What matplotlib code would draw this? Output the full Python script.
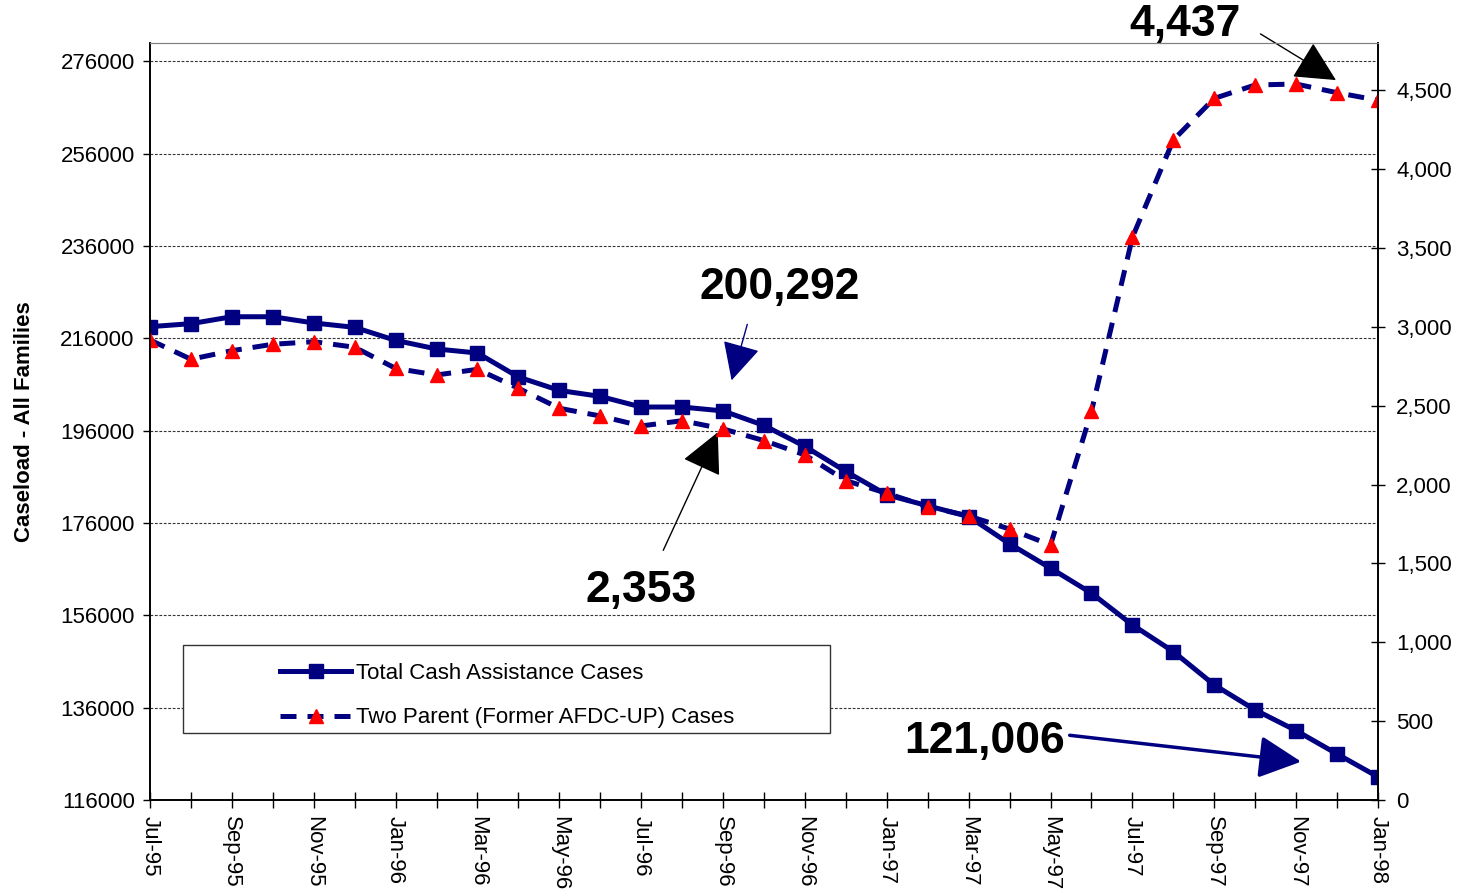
import numpy as np
import matplotlib
matplotlib.use('Agg')
import matplotlib.pyplot as plt
from matplotlib.patches import Rectangle
from matplotlib.ticker import FuncFormatter

plt.rcParams['font.family'] = ['Liberation Sans', 'DejaVu Sans']

#%% data
months = ['Jul-95', 'Aug-95', 'Sep-95', 'Oct-95', 'Nov-95', 'Dec-95',
          'Jan-96', 'Feb-96', 'Mar-96', 'Apr-96', 'May-96', 'Jun-96',
          'Jul-96', 'Aug-96', 'Sep-96', 'Oct-96', 'Nov-96', 'Dec-96',
          'Jan-97', 'Feb-97', 'Mar-97', 'Apr-97', 'May-97', 'Jun-97',
          'Jul-97', 'Aug-97', 'Sep-97', 'Oct-97', 'Nov-97', 'Dec-97',
          'Jan-98']

total_cases = [218550, 219200, 220700, 220700, 219350, 218400,
               215580, 213720, 212840, 207640, 204740, 203440,
               201140, 201140, 200292, 197150, 192600, 187180,
               182120, 179740, 177420, 171500, 166230, 160810,
               153940, 148150, 140930, 135510, 131030, 125970,
               121006]

two_parent = [2917, 2795, 2849, 2890, 2906, 2871,
              2737, 2695, 2731, 2611, 2484, 2435,
              2372, 2405, 2353, 2279, 2188, 2025,
              1945, 1860, 1801, 1718, 1617, 2465,
              3568, 4185, 4449, 4534, 4540, 4485,
              4437]

left_ticks = np.arange(116000, 276001, 20000)
right_ticks = np.arange(0, 4501, 500)

navy = '#000080'
x = np.arange(len(months))

#%% figure
fig = plt.figure(figsize=(14.59, 8.89), dpi=100)
ax = fig.add_axes([0.1028, 0.1001, 0.8417, 0.8515])
ax2 = ax.twinx()

ln1, = ax.plot(x, total_cases, color=navy, lw=3.6, marker='s', ms=10.5,
               label='Total Cash Assistance Cases')
ln2, = ax2.plot(x, two_parent, color=navy, lw=3.6, ls=(0, (3.2, 2.2)),
                marker='^', ms=10, mfc='red', mec='red',
                label='Two Parent (Former AFDC-UP) Cases')

ax.set_xlim(0, len(months) - 1)
ax.set_ylim(116000, 280000)
ax2.set_ylim(0, 4800)

ax.set_yticks(left_ticks)
ax2.set_yticks(right_ticks)
ax2.yaxis.set_major_formatter(FuncFormatter(lambda v, p: f'{int(v):,}'))

ax.set_xticks(x)
ax.set_xticklabels([m if i % 2 == 0 else '' for i, m in enumerate(months)],
                   rotation=-90, ha='center', va='top')

ax.tick_params(axis='y', labelsize=16, direction='out', length=5, width=1, pad=6)
ax.tick_params(axis='x', labelsize=16, direction='inout', length=11, width=1, pad=6)
ax2.tick_params(axis='y', labelsize=16, direction='inout', length=10, width=1, pad=8)

ax.yaxis.grid(True, linestyle=(0, (2.5, 1.5)), color='#333333', lw=0.8)
ax.set_axisbelow(True)

ax.set_ylabel('Caseload - All Families', fontsize=16, fontweight='bold', labelpad=18)

for a in (ax, ax2):
    a.spines['top'].set_color('#808080')
    a.spines['left'].set_linewidth(1.2)
    a.spines['bottom'].set_linewidth(1.2)
    a.spines['right'].set_linewidth(1.2)

#%% legend with its own box
box = Rectangle((0.0269, 0.0885), 0.527, 0.116, transform=ax.transAxes,
                facecolor='white', edgecolor='#333333', lw=1.0, zorder=3)
ax.add_patch(box)
leg = ax2.legend([ln1, ln2], [ln1.get_label(), ln2.get_label()],
                 loc='upper left', bbox_to_anchor=(0.1059, 0.181),
                 frameon=False, fontsize=16, handlelength=3.2,
                 handletextpad=0.2, labelspacing=1.05, borderpad=0,
                 borderaxespad=0)

#%% annotations
big = dict(fontsize=32, fontweight='bold', ha='center', va='center')

ax.text(25.29, 284000, '4,437', clip_on=False, **big)
ax.annotate('', xy=(29.03, 271660), xytext=(27.07, 282290),
            annotation_clip=False,
            arrowprops=dict(arrowstyle='-|>,head_length=1.3,head_width=0.65',
                            mutation_scale=20, lw=1, color='black'))

ax.text(15.39, 227000, '200,292', **big)
ax.annotate('', xy=(14.19, 206340), xytext=(14.61, 219630),
            arrowprops=dict(arrowstyle='-|>,head_length=1.2,head_width=0.6',
                            mutation_scale=20, lw=1, color=navy))

ax.text(12.0, 161300, '2,353', **big)
ax.annotate('', xy=(13.90, 196220), xytext=(12.51, 169550),
            arrowprops=dict(arrowstyle='-|>,head_length=1.3,head_width=0.65',
                            mutation_scale=20, lw=1, color='black'))

ax.text(20.40, 128580, '121,006', **big)
ax.annotate('', xy=(28.19, 124240), xytext=(22.40, 130090),
            arrowprops=dict(arrowstyle='-|>,head_length=1.3,head_width=0.65',
                            mutation_scale=20, lw=2.5, color=navy))

fig.savefig('out.png', dpi=100)
